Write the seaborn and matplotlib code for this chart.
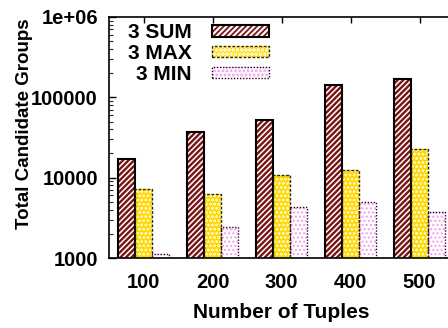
import matplotlib
matplotlib.use("Agg")
import matplotlib.pyplot as plt
from matplotlib.patches import Rectangle
from matplotlib.legend_handler import HandlerTuple
from matplotlib.ticker import FixedLocator, FixedFormatter, LogLocator, NullFormatter
import numpy as np
import pandas as pd
import seaborn as sns

# Data
tuples = ["100", "200", "300", "400", "500"]
series = ["3 SUM", "3 MAX", "3 MIN"]
sum_groups = [17000, 37000, 52700, 141000, 168000]
max_groups = [7170, 6320, 10700, 12500, 23000]
min_groups = [1130, 2450, 4350, 5020, 3710]
y_ticks = [1000, 10000, 100000, 1000000]
y_tick_labels = ["1000", "10000", "100000", "1e+06"]

df = pd.DataFrame({
    "Number of Tuples": tuples * 3,
    "Total Candidate Groups": sum_groups + max_groups + min_groups,
    "series": [s for s in series for _ in tuples],
})

sns.set_theme(style="white")
plt.rcParams["font.family"] = ["Liberation Sans", "DejaVu Sans"]
plt.rcParams["font.weight"] = "bold"
plt.rcParams["text.color"] = "black"
plt.rcParams["hatch.linewidth"] = 1.3

W, H = 448, 328
fig = plt.figure(figsize=(W / 100, H / 100), dpi=100)
# axes run past the right edge of the canvas
left, right, bottom, top = 109, 454, 258, 17
ax = fig.add_axes([left / W, 1 - bottom / H, (right - left) / W, (bottom - top) / H])

sns.barplot(data=df, x="Number of Tuples", y="Total Candidate Groups", hue="series",
            hue_order=series, width=0.75, ax=ax, legend=False)
ax.set_yscale("log")
ax.set_ylim(1000, 1e6)
ax.set_xlim(-0.5, 4.5)

styles = {
    "3 SUM": dict(face="white", hatch="//////", hcol="#7a1414", hlw=1.7,
                  ecol="black", ls="-", lw=1.5),
    "3 MAX": dict(face="#ffd700", hatch="oooo", hcol="#fff4b0", hlw=0.7,
                  ecol="#2a2a00", ls=(0, (2, 1.2)), lw=1.0),
    "3 MIN": dict(face="white", hatch="....", hcol="#f29cef", hlw=1.0,
                  ecol="#330033", ls=(0, (1, 1.2)), lw=1.0),
}


def style_fill(p, st):
    p.set_facecolor(st["face"])
    p.set_hatch(st["hatch"])
    p.set_edgecolor(st["hcol"])
    p.set_linewidth(0)
    if hasattr(p, "set_hatch_linewidth"):
        p.set_hatch_linewidth(st["hlw"])


n = len(tuples)
bars = list(ax.patches)
handles = []
for i, s in enumerate(series):
    st = styles[s]
    for b in bars[i * n:(i + 1) * n]:
        style_fill(b, st)
        x0, y0 = b.get_xy()
        ax.add_patch(Rectangle((x0, y0), b.get_width(), b.get_height(), facecolor="none",
                               edgecolor=st["ecol"], linestyle=st["ls"], linewidth=st["lw"], zorder=3))
    fill = Rectangle((0, 0), 1, 1)
    style_fill(fill, st)
    edge = Rectangle((0, 0), 1, 1, facecolor="none", edgecolor=st["ecol"],
                     linestyle=st["ls"], linewidth=st["lw"])
    handles.append((fill, edge))

ax.yaxis.set_major_locator(FixedLocator(y_ticks))
ax.yaxis.set_major_formatter(FixedFormatter(y_tick_labels))
ax.yaxis.set_minor_locator(LogLocator(base=10, subs=np.arange(2, 10)))
ax.yaxis.set_minor_formatter(NullFormatter())

ax.tick_params(axis="y", which="major", direction="in", length=5, width=1, left=True, right=False,
               labelsize=14.5, pad=8, colors="black")
ax.tick_params(axis="y", which="minor", direction="in", length=3, width=0.8, left=True, right=False)
ax.tick_params(axis="x", which="major", direction="in", length=4, width=1, bottom=False, top=True,
               labelsize=14.5, pad=11, colors="black")
for lab in ax.get_xticklabels() + ax.get_yticklabels():
    lab.set_fontweight("bold")

for sp in ax.spines.values():
    sp.set_color("black")
    sp.set_linewidth(1.2)

ax.set_xlabel("Number of Tuples", fontsize=15, fontweight="bold", labelpad=8, color="black")
ax.set_ylabel("Total Candidate Groups", fontsize=13.5, fontweight="bold", color="black")
ax.yaxis.set_label_coords(-76 / (right - left), (bottom - 124) / (bottom - top))

leg = ax.legend(handles, series, loc="upper left", frameon=False, markerfirst=False,
                handler_map={tuple: HandlerTuple(ndivide=1, pad=0)},
                prop=dict(weight="bold", size=15), handlelength=2.7, handleheight=0.45,
                labelspacing=0.08, handletextpad=1.0, borderaxespad=0.0,
                bbox_to_anchor=(0.03, 1.008))
for t in leg.get_texts():
    t.set_color("black")

fig.savefig("out.png", dpi=100)
